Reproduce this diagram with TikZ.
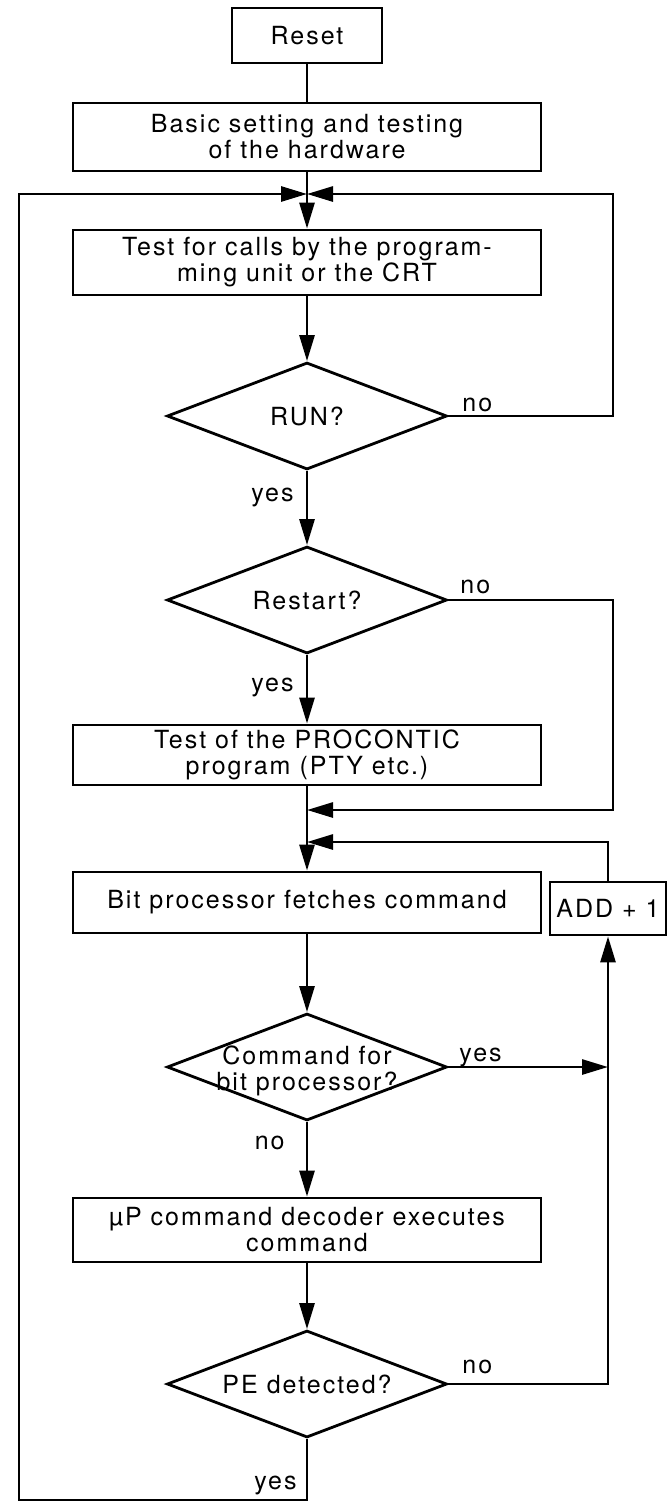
\documentclass[tikz,border=0pt]{standalone}
\usepackage{fontspec}
\setmainfont{TeX Gyre Heros}[LetterSpace=8]
\usetikzlibrary{shapes.geometric,arrows.meta,calc}
\begin{document}
\begin{tikzpicture}[x=1pt,y=-1pt,
  line width=2.8pt,
  txt/.style={font=\fontsize{25}{26}\selectfont, inner sep=0pt},
  box/.style={txt, draw, rectangle, align=center, minimum width=468pt},
  dia/.style={draw, diamond, minimum width=280pt, minimum height=107pt, inner sep=0pt},
  arr/.style={-{Triangle[length=26pt,width=15pt]}},
]
\useasboundingbox (0,0) rectangle (669,1505);
% nodes
\node[box, minimum width=150pt, minimum height=55pt] (reset) at (307,35.5) {Reset};
\node[box, minimum height=68pt] (basic) at (307,137) {Basic setting and testing\\of the hardware};
\node[box, minimum height=65pt] (test) at (307,262.5) {Test for calls by the program-\\ming unit or the CRT};
\node[dia] (run) at (307,416) {};
\node[txt] (runT) at (run) {RUN?};
\node[dia] (rst) at (307,600) {};
\node[txt] (rstT) at (rst) {Restart?};
\node[box, minimum height=60pt] (proc) at (307,755) {Test of the PROCONTIC\\program (PTY etc.)};
\node[box, minimum height=61pt] (bit) at (307,902.5) {Bit processor fetches command};
\node[box, minimum width=116pt, minimum height=53pt] (add) at (608,908.5) {ADD + 1};
\node[dia] (cmd) at (307,1067) {};
\node[txt, align=center] (cmdT) at (307,1071) {Command for\\bit processor?};
\node[box, minimum height=64pt] (mup) at (307,1230) {µP command decoder executes\\command};
\node[dia] (pe) at (307,1384) {};
\node[txt] (peT) at (pe) {PE detected?};
% labels
\node[txt, anchor=base west] (runNo) at (461,411) {no};
\node[txt, anchor=base east] (runYes) at (295,501) {yes};
\node[txt, anchor=base west] (rstNo) at (459,593) {no};
\node[txt, anchor=base east] (rstYes) at (295,691) {yes};
\node[txt, anchor=base west] (cmdYes) at (458,1061) {yes};
\node[txt, anchor=base east] (cmdNo) at (286,1149) {no};
\node[txt, anchor=base west] (peNo) at (461,1373) {no};
\node[txt, anchor=base east] (peYes) at (298,1489) {yes};
% coordinates
\coordinate (j1) at (307,194);
\coordinate (j2) at (307,810);
\coordinate (j3) at (307,842);
\coordinate (bot) at (307,1500);
\coordinate (bl) at (19,1500);
\coordinate (tl) at (19,194);
\coordinate (r1) at (613,416);
\coordinate (r1t) at (613,194);
\coordinate (r2) at (613,600);
\coordinate (r2b) at (613,810);
\coordinate (a1) at (608,842);
\coordinate (c1) at (608,1067);
\coordinate (p1) at (608,1384);
% connectors
\draw (reset) -- (basic);
\draw[arr] (basic) -- (test);
\draw[arr] (pe.south) -- (bot) -- (bl) -- (tl) -- (j1);
\draw[arr] (run.east) -- (r1) -- (r1t) -- (j1);
\draw[arr] (test) -- (run);
\draw[arr] (run) -- (rst);
\draw[arr] (rst.east) -- (r2) -- (r2b) -- (j2);
\draw[arr] (rst) -- (proc);
\draw[arr] (proc) -- (bit);
\draw[arr] (add) -- (a1) -- (j3);
\draw[arr] (bit) -- (cmd);
\draw[arr] (cmd.east) -- (c1);
\draw[arr] (pe.east) -- (p1) -- (add);
\draw[arr] (cmd) -- (mup);
\draw[arr] (mup) -- (pe);
\end{tikzpicture}
\end{document}
